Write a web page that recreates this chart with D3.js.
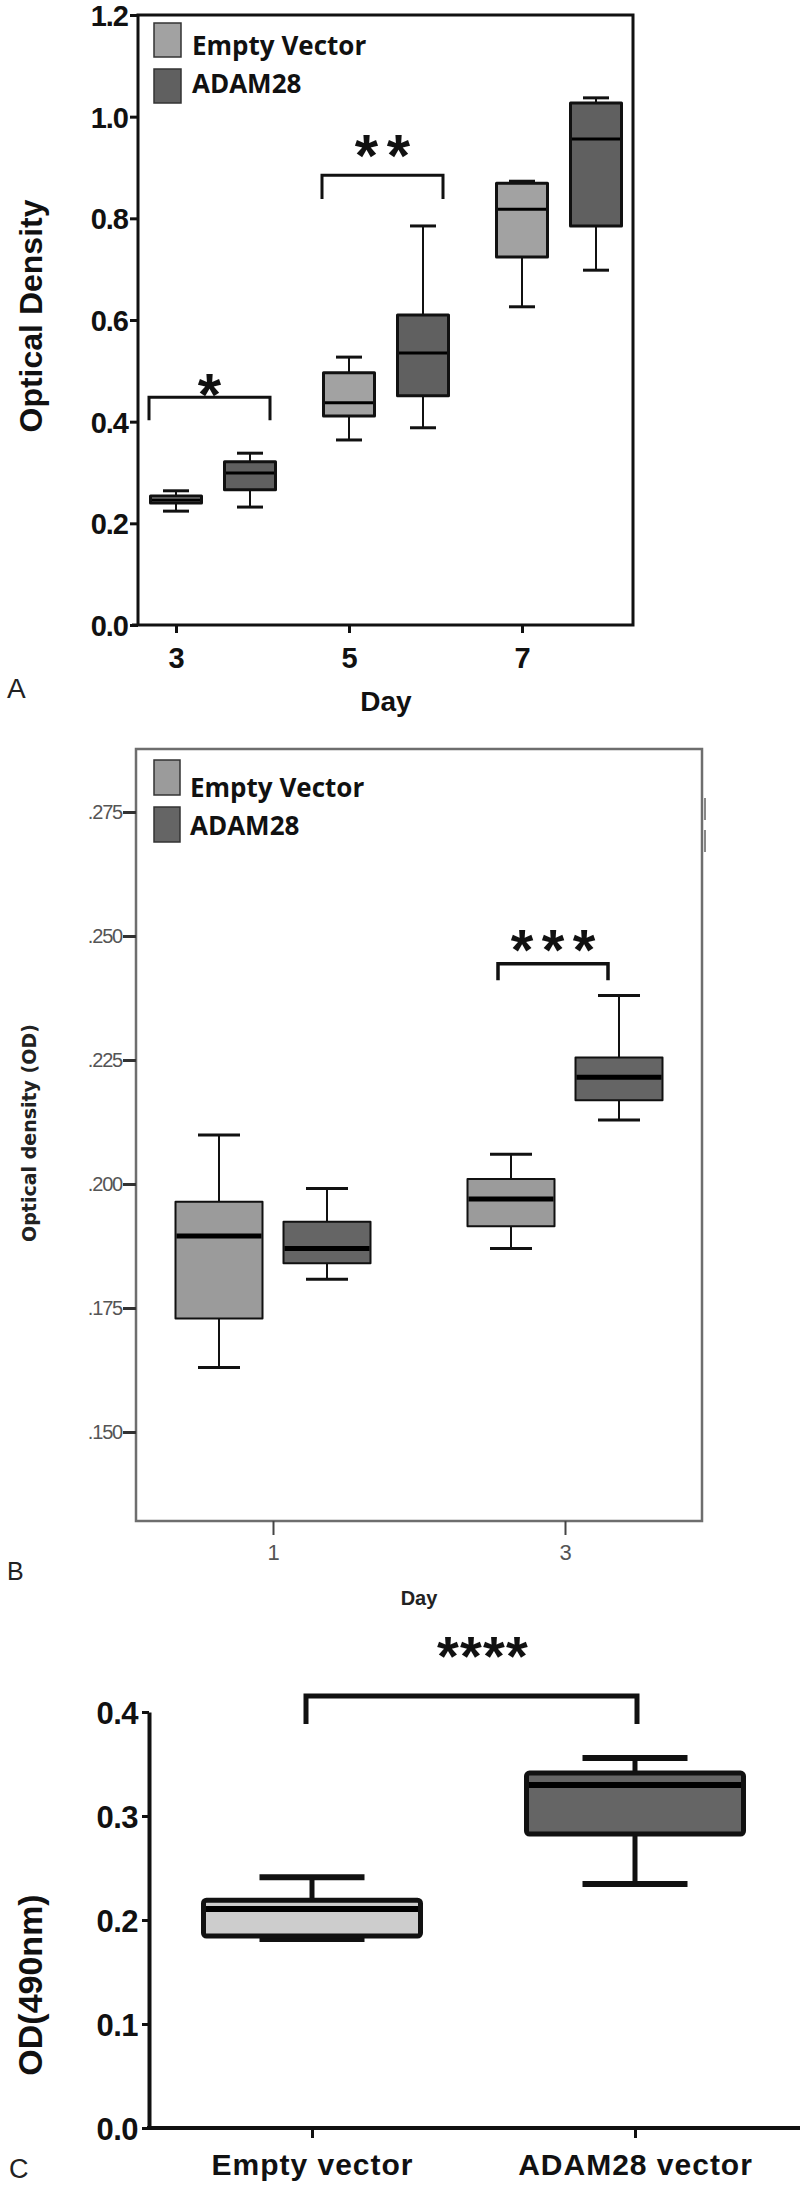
<!DOCTYPE html>
<html><head><meta charset="utf-8">
<script src="https://cdn.jsdelivr.net/npm/d3@7"></script>
<style>body{margin:0;background:#fff} svg{display:block}</style>
</head><body>
<svg id="fig" width="800" height="2204"></svg>
<script>
// ---------- Panel A data ----------
const daysA = [3, 5, 7];
const seriesA = ["Empty Vector", "ADAM28"];
// each entry: [min, q1, median, q3, max]
const emptyVectorA = [[0.224,0.240,0.246,0.254,0.264],[0.364,0.411,0.437,0.496,0.527],[0.626,0.724,0.818,0.869,0.873]];
const adam28A      = [[0.232,0.266,0.299,0.321,0.338],[0.388,0.451,0.535,0.610,0.785],[0.698,0.785,0.956,1.027,1.037]];
const ticksA = [0, 0.2, 0.4, 0.6, 0.8, 1.0, 1.2];
const sigDaysA = [3, 5];
const sigLabelsA = ["*", "**"];
const sigTopA = [0.448, 0.885];
const sigLegA = [0.403, 0.838];
const sigTextA = [0.478, 0.948];

// ---------- Panel B data ----------
const daysB = [1, 3];
const seriesB = ["Empty Vector", "ADAM28"];
const emptyVectorB = [[0.163,0.1729,0.1895,0.1964,0.2099],[0.187,0.1915,0.197,0.201,0.206]];
const adam28B      = [[0.1808,0.184,0.187,0.1924,0.1991],[0.2129,0.2169,0.2215,0.2255,0.238]];
const ticksB = [0.150, 0.175, 0.200, 0.225, 0.250, 0.275];
const sigLabelB = "***", sigTopB = 0.2444, sigLegB = 0.2411, sigTextB = 0.2496;

// ---------- Panel C data ----------
const categoriesC = ["Empty vector", "ADAM28 vector"];
const valuesC = [[0.1817,0.1846,0.2106,0.219,0.241],[0.2346,0.2827,0.3298,0.3413,0.3558]];
const ticksC = [0, 0.1, 0.2, 0.3, 0.4];
const sigLabelC = "****", sigTopC = 0.4154, sigLegC = 0.3885, sigTextC = 0.4654;

const svg = d3.select("#fig");
const SANS = "'Liberation Sans', Arial, sans-serif";
const LEG = "'Open Sans', 'Liberation Sans', sans-serif";

function drawBox(g, cx, s, y, w, cap, st) {
  const [mn, q1, md, q3, mx] = s;
  g.append("line").attr("x1", cx).attr("x2", cx).attr("y1", y(mx)).attr("y2", y(q3))
    .attr("stroke", "#111").attr("stroke-width", st.wh);
  g.append("line").attr("x1", cx).attr("x2", cx).attr("y1", y(q1)).attr("y2", y(mn))
    .attr("stroke", "#111").attr("stroke-width", st.wh);
  [mx, mn].forEach(v => g.append("line").attr("x1", cx - cap/2).attr("x2", cx + cap/2)
    .attr("y1", y(v)).attr("y2", y(v)).attr("stroke", "#111").attr("stroke-width", st.cap));
  g.append("rect").attr("x", cx - w/2).attr("y", y(q3)).attr("width", w).attr("height", y(q1) - y(q3))
    .attr("fill", st.fill).attr("stroke", "#111").attr("stroke-width", st.box)
    .attr("stroke-linejoin", "round").attr("rx", st.rx || 0);
  g.append("line").attr("x1", cx - w/2 + st.box/2).attr("x2", cx + w/2 - st.box/2)
    .attr("y1", y(md)).attr("y2", y(md)).attr("stroke", "#000").attr("stroke-width", st.med);
}

function stars(g, cx, cy, label, fs, spacing, weight) {
  const n = label.length;
  for (let i = 0; i < n; i++) {
    g.append("text").attr("x", cx + (i - (n - 1)/2) * spacing).attr("y", cy + 0.555 * fs)
      .attr("text-anchor", "middle").attr("font-family", SANS).attr("font-weight", weight)
      .attr("font-size", fs).attr("fill", "#111").text("*");
  }
}

function bracket(g, x1, x2, yTop, yLeg, sw) {
  g.append("path").attr("d", `M${x1},${yLeg}V${yTop}H${x2}V${yLeg}`)
    .attr("fill", "none").attr("stroke", "#111").attr("stroke-width", sw);
}

// ================= Panel A =================
(function () {
  const g = svg.append("g");
  const x = d3.scaleLinear().domain([3, 7]).range([176, 522]);
  const off = d3.scalePoint().domain(seriesA).range([0, 74]);
  const y = d3.scaleLinear().domain([0, 1.2]).range([625, 15]);
  const fills = ["#a2a2a2", "#606060"];
  const data = [emptyVectorA, adam28A];

  g.append("path").attr("d", `M138,625V15H633V625H132`).attr("fill", "none")
    .attr("stroke", "#111").attr("stroke-width", 3);

  const ya = g.append("g").attr("transform", "translate(138,0)")
    .call(d3.axisLeft(y).tickValues(ticksA).tickFormat(d3.format(".1f")).tickSize(8).tickSizeOuter(0).tickPadding(2));
  ya.select(".domain").remove();
  ya.selectAll(".tick line").attr("stroke", "#111").attr("stroke-width", 3);
  ya.selectAll(".tick text").attr("font-family", SANS).attr("font-weight", "bold")
    .attr("font-size", 29).attr("letter-spacing", -1).attr("fill", "#111").attr("dy", "0.36em");

  const xa = g.append("g").attr("transform", "translate(0,625)")
    .call(d3.axisBottom(x).tickValues(daysA).tickFormat(d3.format("d")).tickSize(8).tickSizeOuter(0));
  xa.select(".domain").remove();
  xa.selectAll(".tick line").attr("stroke", "#111").attr("stroke-width", 3);
  xa.selectAll(".tick text").attr("font-family", SANS).attr("font-weight", "bold")
    .attr("font-size", 29).attr("fill", "#111").attr("y", 43).attr("dy", 0);

  seriesA.forEach((s, si) => {
    daysA.forEach((d, di) => {
      drawBox(g, x(d) + off(s), data[si][di], y, 51, 26, {wh: 2, cap: 3, box: 3, med: 3, fill: fills[si]});
    });
  });

  sigDaysA.forEach((d, i) => {
    const x1 = x(d) + off(seriesA[0]) - 27, x2 = x(d) + off(seriesA[1]) + 20;
    bracket(g, x1, x2, y(sigTopA[i]), y(sigLegA[i]), 3);
    stars(g, (x1 + x2) / 2, y(sigTextA[i]), sigLabelsA[i], 60, 32, "bold");
  });

  seriesA.forEach((s, i) => {
    g.append("rect").attr("x", 154).attr("y", 23 + i * 46).attr("width", 27).attr("height", 34)
      .attr("fill", fills[i]).attr("stroke", "#333").attr("stroke-width", 1.5);
    g.append("text").attr("x", 192).attr("y", 55 + i * 38).attr("font-family", LEG)
      .attr("font-weight", "bold").attr("font-size", 26).attr("fill", "#111").text(s);
  });

  g.append("text").attr("transform", "translate(42,316) rotate(-90)").attr("text-anchor", "middle")
    .attr("font-family", SANS).attr("font-weight", "bold").attr("font-size", 32).attr("fill", "#111")
    .text("Optical Density");
  g.append("text").attr("x", 386).attr("y", 711).attr("text-anchor", "middle")
    .attr("font-family", SANS).attr("font-weight", "bold").attr("font-size", 28).attr("fill", "#111").text("Day");
  g.append("text").attr("x", 7).attr("y", 698).attr("font-family", SANS).attr("font-size", 28)
    .attr("fill", "#222").text("A");
})();

// ================= Panel B =================
(function () {
  const g = svg.append("g");
  const x = d3.scaleLinear().domain([1, 3]).range([273, 565]);
  const off = d3.scalePoint().domain(seriesB).range([-54, 54]);
  const y = d3.scaleLinear().domain([0.15, 0.275]).range([1432, 812]);
  const fills = ["#9b9b9b", "#656565"];
  const data = [emptyVectorB, adam28B];

  g.append("rect").attr("x", 136).attr("y", 749).attr("width", 566).attr("height", 772)
    .attr("fill", "none").attr("stroke", "#6e6e6e").attr("stroke-width", 2.5);
  [[798, 820], [830, 852]].forEach(([a, b]) => g.append("line").attr("x1", 705).attr("x2", 705)
    .attr("y1", a).attr("y2", b).attr("stroke", "#888").attr("stroke-width", 2));

  const ya = g.append("g").attr("transform", "translate(136,0)")
    .call(d3.axisLeft(y).tickValues(ticksB).tickFormat(d => d3.format(".3f")(d).replace(/^0/, ""))
      .tickSize(13).tickSizeOuter(0).tickPadding(1));
  ya.select(".domain").remove();
  ya.selectAll(".tick line").attr("stroke", "#333").attr("stroke-width", 3);
  ya.selectAll(".tick text").attr("font-family", SANS).attr("font-size", 20).attr("letter-spacing", -1.2)
    .attr("fill", "#555");

  const xa = g.append("g").attr("transform", "translate(0,1521)")
    .call(d3.axisBottom(x).tickValues(daysB).tickFormat(d3.format("d")).tickSize(14).tickSizeOuter(0));
  xa.select(".domain").remove();
  xa.selectAll(".tick line").attr("stroke", "#444").attr("stroke-width", 2);
  xa.selectAll(".tick text").attr("font-family", SANS).attr("font-size", 22).attr("fill", "#555")
    .attr("y", 39).attr("dy", 0);

  seriesB.forEach((s, si) => {
    daysB.forEach((d, di) => {
      drawBox(g, x(d) + off(s), data[si][di], y, 87, 42, {wh: 2, cap: 3, box: 2, med: 5, fill: fills[si]});
    });
  });

  const x1 = x(3) + off(seriesB[0]) - 13, x2 = x(3) + off(seriesB[1]) - 11;
  bracket(g, x1, x2, y(sigTopB), y(sigLegB), 3.5);
  stars(g, (x1 + x2) / 2, y(sigTextB), sigLabelB, 58, 31, "bold");

  seriesB.forEach((s, i) => {
    g.append("rect").attr("x", 154).attr("y", 760 + i * 47).attr("width", 26).attr("height", 35)
      .attr("fill", fills[i]).attr("stroke", "#333").attr("stroke-width", 1.5);
    g.append("text").attr("x", 190).attr("y", 797 + i * 38).attr("font-family", LEG)
      .attr("font-weight", "bold").attr("font-size", 26).attr("fill", "#111").text(s);
  });

  g.append("text").attr("transform", "translate(36,1133) rotate(-90)").attr("text-anchor", "middle")
    .attr("font-family", "'DejaVu Sans', sans-serif").attr("font-weight", "bold").attr("font-size", 19)
    .attr("fill", "#222").text("Optical density (OD)");
  g.append("text").attr("x", 419).attr("y", 1605).attr("text-anchor", "middle")
    .attr("font-family", SANS).attr("font-weight", "bold").attr("font-size", 20).attr("fill", "#222").text("Day");
  g.append("text").attr("x", 7).attr("y", 1580).attr("font-family", SANS).attr("font-size", 25)
    .attr("fill", "#222").text("B");
})();

// ================= Panel C =================
(function () {
  const g = svg.append("g");
  const x = d3.scalePoint().domain(categoriesC).range([312, 635]);
  const y = d3.scaleLinear().domain([0, 0.4]).range([2128, 1712]);
  const fills = ["#cdcdcd", "#656565"];

  g.append("line").attr("x1", 147).attr("x2", 800).attr("y1", 2128).attr("y2", 2128)
    .attr("stroke", "#111").attr("stroke-width", 4);

  const ya = g.append("g").attr("transform", "translate(149,0)")
    .call(d3.axisLeft(y).tickValues(ticksC).tickFormat(d3.format(".1f")).tickSize(7).tickSizeOuter(0).tickPadding(4));
  ya.select(".domain").attr("stroke", "#111").attr("stroke-width", 4);
  ya.selectAll(".tick line").attr("stroke", "#111").attr("stroke-width", 3);
  ya.selectAll(".tick text").attr("font-family", SANS).attr("font-weight", "bold")
    .attr("font-size", 31).attr("letter-spacing", -0.5).attr("fill", "#111").attr("dy", "0.36em");

  const xa = g.append("g").attr("transform", "translate(0,2128)")
    .call(d3.axisBottom(x).tickSize(10).tickSizeOuter(0));
  xa.select(".domain").remove();
  xa.selectAll(".tick line").attr("stroke", "#111").attr("stroke-width", 3);
  xa.selectAll(".tick text").attr("font-family", SANS).attr("font-weight", "bold")
    .attr("font-size", 30).attr("letter-spacing", 1).attr("fill", "#111").attr("y", 47).attr("dy", 0);

  categoriesC.forEach((c, i) => {
    drawBox(g, x(c), valuesC[i], y, 217, 105, {wh: 5, cap: 6, box: 5, med: 6, fill: fills[i], rx: 3});
  });

  const x1 = x(categoriesC[0]) - 6, x2 = x(categoriesC[1]) + 2;
  bracket(g, x1, x2, y(sigTopC), y(sigLegC), 5);
  stars(g, (x1 + x2) / 2 + 11, y(sigTextC), sigLabelC, 56, 23, "bold");

  g.append("text").attr("transform", "translate(42,1985) rotate(-90)").attr("text-anchor", "middle")
    .attr("font-family", SANS).attr("font-weight", "bold").attr("font-size", 34).attr("fill", "#111")
    .text("OD(490nm)");
  g.append("text").attr("x", 9).attr("y", 2178).attr("font-family", SANS).attr("font-size", 27)
    .attr("fill", "#222").text("C");
})();
</script>
</body></html>
